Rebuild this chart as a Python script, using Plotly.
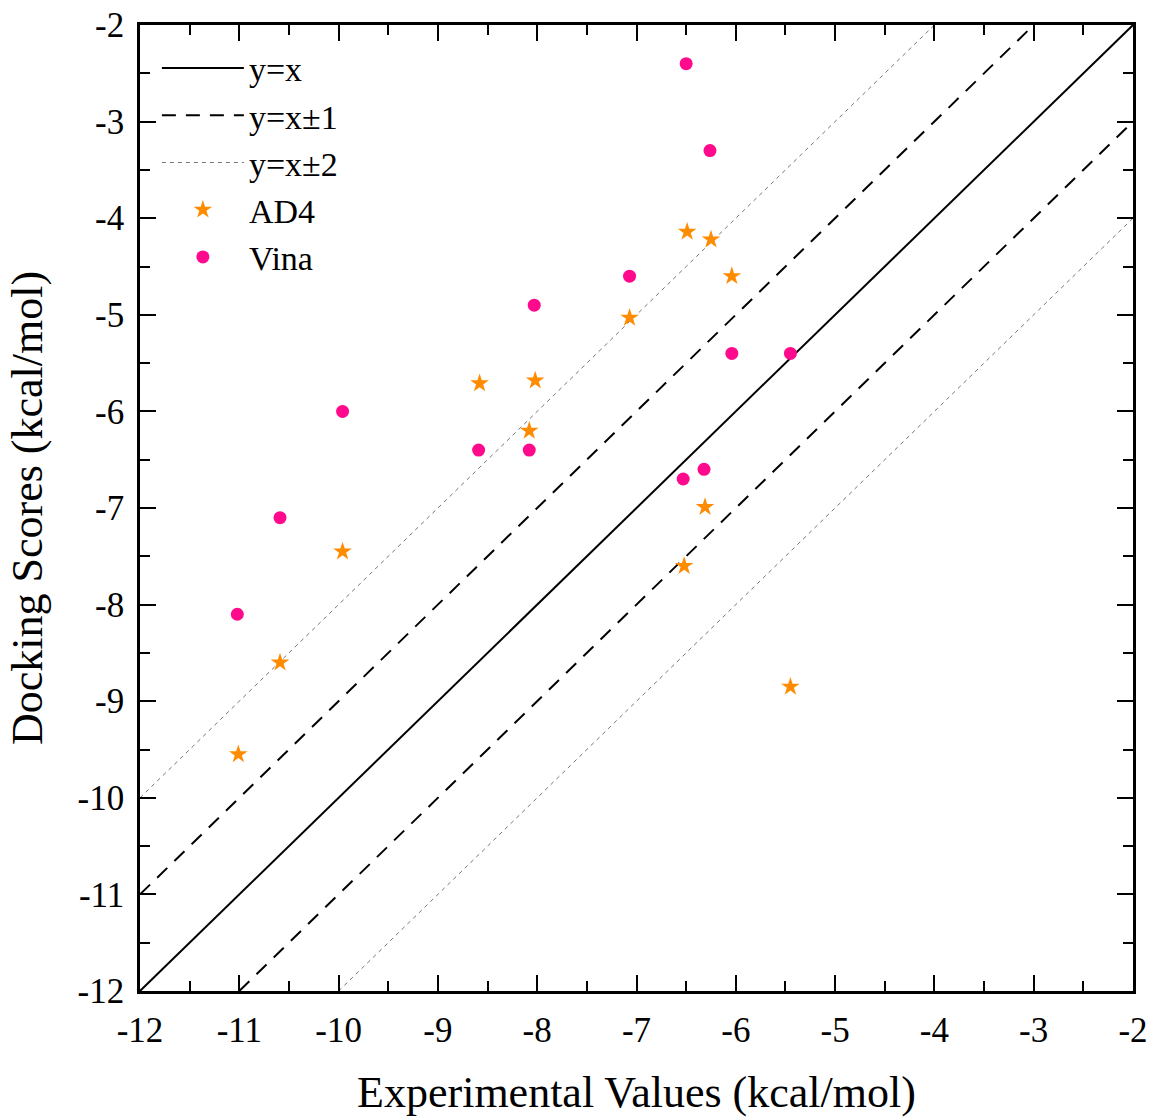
import plotly.graph_objects as go

vina_x = [-6.50, -6.26, -7.07, -8.03, -6.04, -5.45, -9.96, -8.59, -8.08, -6.32, -6.53, -10.59, -11.02]
vina_y = [-2.40, -3.30, -4.60, -4.90, -5.40, -5.40, -6.00, -6.40, -6.40, -6.60, -6.70, -7.10, -8.10]

ad4_x = [-6.49, -6.25, -6.04, -7.07, -8.58, -8.02, -8.08, -9.96, -6.31, -6.52, -10.59, -11.01, -5.45]
ad4_y = [-4.14, -4.22, -4.60, -5.03, -5.71, -5.68, -6.20, -7.45, -6.99, -7.60, -8.60, -9.55, -8.85]

axis_min, axis_max = -12, -2
tick_vals = list(range(-12, -1))
tick_text = [str(v) for v in tick_vals]

FONT = "Liberation Serif"

def ref_line(offset):
    lo = max(axis_min, axis_min - offset)
    hi = min(axis_max, axis_max - offset)
    return [lo, hi], [lo + offset, hi + offset]

fig = go.Figure()

x0, y0 = ref_line(0)
fig.add_trace(go.Scatter(x=x0, y=y0, mode="lines", name="y=x",
                         line=dict(color="black", width=2)))

xp, yp = ref_line(1)
xm, ym = ref_line(-1)
fig.add_trace(go.Scatter(x=xp + [None] + xm, y=yp + [None] + ym, mode="lines", name="y=x±1",
                         line=dict(color="black", width=2, dash="14px,10px")))

xp2, yp2 = ref_line(2)
xm2, ym2 = ref_line(-2)
fig.add_trace(go.Scatter(x=xp2 + [None] + xm2, y=yp2 + [None] + ym2, mode="lines", name="y=x±2",
                         line=dict(color="#777777", width=1, dash="4px,4px")))

fig.add_trace(go.Scatter(x=ad4_x, y=ad4_y, mode="markers", name="AD4",
                         marker=dict(symbol="star", size=14, color="#FF8C00",
                                     line=dict(width=0))))
fig.add_trace(go.Scatter(x=vina_x, y=vina_y, mode="markers", name="Vina",
                         marker=dict(symbol="circle", size=13, color="#FF0A8C",
                                     line=dict(width=0))))

axis_common = dict(
    range=[axis_min, axis_max],
    tickmode="array", tickvals=tick_vals, ticktext=tick_text,
    ticks="inside", ticklen=16, tickwidth=2, tickcolor="black",
    showline=True, linecolor="black", linewidth=2.5, mirror="allticks",
    showgrid=False, zeroline=False, automargin=False,
    ticklabeloverflow="allow",
    tickfont=dict(family=FONT, size=35, color="black"),
    minor=dict(ticks="inside", ticklen=10, tickwidth=2, tickcolor="black", dtick=0.5,
               tick0=-12, showgrid=False),
)

fig.update_layout(
    width=1152, height=1117,
    margin=dict(l=140, r=19, t=25, b=126),
    paper_bgcolor="white", plot_bgcolor="white",
    font=dict(family=FONT, size=35, color="black"),
    xaxis=dict(axis_common, ticklabelstandoff=6,
               title=dict(text="Experimental Values (kcal/mol)",
                          font=dict(family=FONT, size=44), standoff=35)),
    yaxis=dict(axis_common, ticklabelstandoff=6,
               title=dict(text="Docking Scores (kcal/mol)",
                          font=dict(family=FONT, size=44), standoff=22)),
    legend=dict(x=0.017, y=0.985, xanchor="left", yanchor="top",
                bgcolor="rgba(0,0,0,0)", borderwidth=0,
                font=dict(family=FONT, size=34, color="black"),
                itemwidth=82, tracegroupgap=0),
    showlegend=True,
)

fig.write_html("out.html",
               config={"displayModeBar": False},
               post_script="document.body.style.margin='0';document.body.style.overflow='hidden';")
